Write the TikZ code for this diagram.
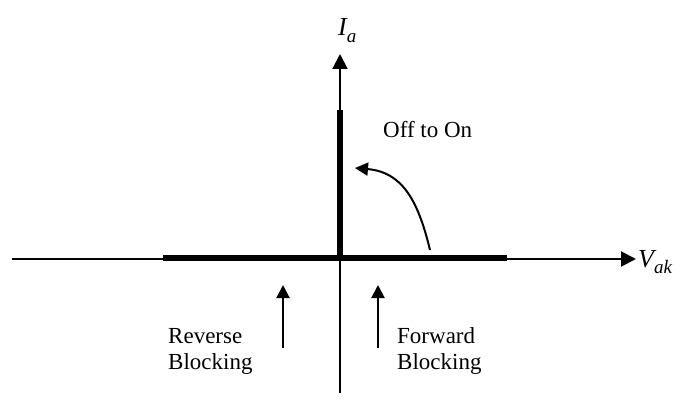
\documentclass[tikz,border=0pt]{standalone}
\usepackage{fontspec}
\setmainfont{Liberation Serif}
\usetikzlibrary{arrows.meta}
\newcommand{\mysub}[2]{{\fontsize{26}{26}\selectfont\itshape #1}\raisebox{-0.3em}{\fontsize{19}{19}\selectfont\itshape #2}}
\begin{document}
\begin{tikzpicture}[x=1pt,y=-1pt,
  axis/.style={line width=2pt,-{Triangle[length=15pt,width=15pt]}},
  thickseg/.style={line width=6pt},
  uparrow/.style={line width=2pt,-{Triangle[length=13pt,width=13pt]}},
  lbl/.style={inner sep=0pt,font=\fontsize{23}{26}\selectfont}]
\useasboundingbox (0,0) rectangle (686,404);
% axes
\coordinate (xl) at (12,259);
\coordinate (xr) at (636,259);
\coordinate (yb) at (340,393);
\coordinate (yt) at (340,54);
\draw[axis] (xl) -- (xr);
\draw[axis] (yb) -- (yt);
% thick segments
\coordinate (hl) at (163,258);
\coordinate (hr) at (507,258);
\coordinate (vb) at (340,258);
\coordinate (vt) at (340,110);
\draw[thickseg] (hl) -- (hr);
\draw[thickseg] (vb) -- (vt);
% axis labels
\node[lbl,anchor=base west] (ia) at (338,36) {\mysub{I}{a}};
\node[lbl,anchor=base west] (vak) at (638,267) {\mysub{V}{ak}};
% curved arrow
\coordinate (cs) at (430,250);
\coordinate (ce) at (355,168);
\draw[uparrow] (cs) .. controls (418,200) and (402,172) .. (ce);
\node[lbl,anchor=base west] (off) at (383,137) {Off to On};
% up arrows
\coordinate (a1b) at (283,348);
\coordinate (a1t) at (283,285);
\coordinate (a2b) at (378,348);
\coordinate (a2t) at (378,285);
\draw[uparrow] (a1b) -- (a1t);
\draw[uparrow] (a2b) -- (a2t);
% labels
\node[lbl,anchor=base west] (rev1) at (168,343) {Reverse};
\node[lbl,anchor=base west] (rev2) at (168,369) {Blocking};
\node[lbl,anchor=base west] (fwd1) at (397,343) {Forward};
\node[lbl,anchor=base west] (fwd2) at (397,369) {Blocking};
\end{tikzpicture}
\end{document}
